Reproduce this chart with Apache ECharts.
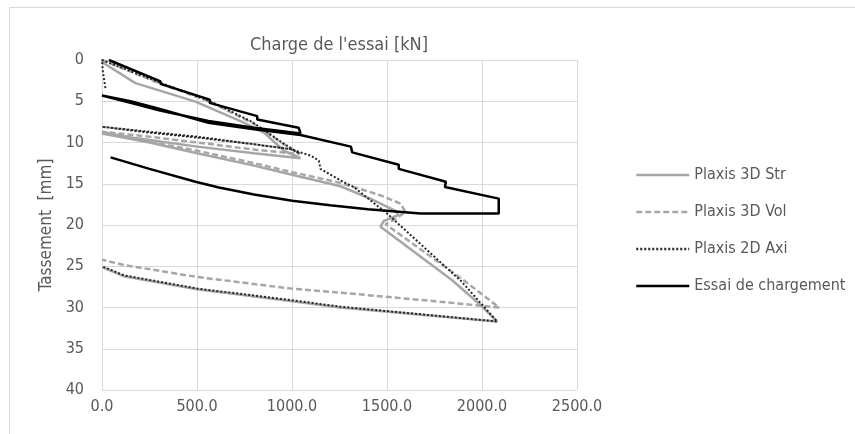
<!DOCTYPE html>
<html>
<head>
<meta charset="utf-8">
<script src="https://cdn.jsdelivr.net/npm/echarts@6/dist/echarts.min.js"></script>
<style>
  html, body { margin: 0; padding: 0; background: #fff; }
  #chart { width: 855px; height: 434px; }
</style>
</head>
<body>
<div id="chart"></div>
<script>
// charge [kN], tassement [mm]
var plaxis3DStr = [
  [0, 0], [10, 0.4], [176, 2.8], [492, 5.05], [738, 7.5], [852, 8.8], [957, 11.0], [1045, 11.9],
  [800, 11.3], [501, 10.5], [250, 9.7], [0, 8.9],
  [250, 10.0], [501, 11.3], [800, 12.8], [1000, 13.9], [1255, 15.3], [1420, 16.9], [1545, 18.3], [1560, 18.8],
  [1483, 19.5], [1466, 20.2], [1843, 26.7], [1992, 29.7], [2080, 31.7],
  [1255, 30.0], [992, 29.2], [501, 27.8], [115, 26.2], [0, 25.1]
];
var plaxis3DVol = [
  [0, 0], [300, 2.8], [560, 5.0], [790, 7.6], [950, 10.1], [1040, 11.4],
  [817, 10.9], [500, 10.0], [250, 9.3], [0, 8.7],
  [250, 9.9], [501, 11.0], [800, 12.5], [983, 13.5], [1255, 14.9], [1466, 16.4], [1571, 17.4], [1597, 18.4],
  [1536, 19.4], [1492, 19.9], [1904, 26.7], [2090, 30.0],
  [1780, 29.3], [1255, 28.2], [992, 27.7], [501, 26.3], [115, 24.85], [0, 24.2]
];
var plaxis2DAxi = [
  [18, 3.4], [5, 1.5], [0, 0], [300, 2.7], [560, 4.9], [790, 7.5], [960, 10.2], [1040, 11.3],
  [992, 10.8], [500, 9.3], [250, 8.7], [0, 8.1],
  [250, 8.8], [500, 9.4], [800, 10.2], [992, 10.8], [1100, 11.6], [1141, 12.2], [1150, 13.2], [1255, 14.6],
  [1325, 15.4], [1500, 18.6], [1890, 26.8], [2080, 31.7],
  [1255, 29.9], [992, 29.1], [501, 27.7], [115, 26.1], [0, 25.0]
];
var essai = [
  [36, 0], [308, 2.6], [308, 2.9], [567, 4.8], [567, 5.2], [817, 6.8], [817, 7.2], [1035, 8.2], [1045, 8.9],
  [800, 8.2], [560, 7.4], [300, 6.1], [150, 5.2], [0, 4.3],
  [150, 5.0], [300, 5.9], [560, 7.6], [800, 8.4], [1045, 9.1],
  [1310, 10.5], [1317, 11.2], [1562, 12.7], [1562, 13.2], [1810, 14.75], [1805, 15.4], [2088, 16.8], [2088, 18.6],
  [1676, 18.6], [1400, 18.1], [1200, 17.6], [1001, 17.05], [800, 16.3], [615, 15.45], [492, 14.75], [250, 13.2], [45, 11.8]
];
var seriesNames = ['Plaxis 3D Str', 'Plaxis 3D Vol', 'Plaxis 2D Axi', 'Essai de chargement'];
var xTicks = [0, 500, 1000, 1500, 2000, 2500];

var txt = '#595959';
var font = "'Liberation Sans Narrow', 'DejaVu Sans Condensed', 'Lato', sans-serif";

var chart = echarts.init(document.getElementById('chart'));

function lineSeries(name, data, color, width, type) {
  return {
    name: name,
    type: 'line',
    data: data,
    symbol: 'none',
    showSymbol: false,
    animation: false,
    lineStyle: { color: color, width: width, type: type },
    itemStyle: { color: color }
  };
}

chart.setOption({
  backgroundColor: '#fff',
  animation: false,
  textStyle: { fontFamily: font },
  title: {
    text: "Charge de l'essai [kN]",
    left: 339,
    top: 36,
    padding: 0,
    textAlign: 'center',
    textStyle: { color: txt, fontSize: 18, fontWeight: 'normal', fontFamily: font }
  },
  graphic: [{
    type: 'rect',
    shape: { x: 9.5, y: 7.5, width: 900, height: 500 },
    style: { fill: 'none', stroke: '#d9d9d9', lineWidth: 1 },
    silent: true
  }],
  legend: {
    orient: 'vertical',
    left: 630,
    top: 162,
    itemWidth: 53,
    itemHeight: 14,
    itemGap: 21,
    itemStyle: { color: 'rgba(0,0,0,0)', borderWidth: 0, opacity: 0 },
    lineStyle: { width: 2.5 },
    textStyle: { color: txt, fontSize: 16, fontFamily: font },
    data: seriesNames
  },
  grid: { left: 102, top: 60, width: 475, height: 330 },
  xAxis: {
    type: 'value',
    min: xTicks[0],
    max: xTicks[xTicks.length - 1],
    interval: 500,
    axisLine: { show: false },
    axisTick: { show: false },
    axisLabel: { color: txt, fontSize: 16, margin: 9, formatter: function (v) { return v.toFixed(1); } },
    splitLine: { show: true, lineStyle: { color: '#d9d9d9', width: 1 } }
  },
  yAxis: {
    type: 'value',
    inverse: true,
    min: 0,
    max: 40,
    interval: 5,
    name: 'Tassement  [mm]',
    nameLocation: 'middle',
    nameGap: 46,
    nameRotate: 90,
    nameTextStyle: { color: txt, fontSize: 17, fontFamily: font },
    axisLine: { show: false },
    axisTick: { show: false },
    axisLabel: { color: txt, fontSize: 16, margin: 18 },
    splitLine: { show: true, lineStyle: { color: '#d9d9d9', width: 1 } }
  },
  series: [
    lineSeries(seriesNames[0], plaxis3DStr, '#a6a6a6', 2.5, 'solid'),
    lineSeries(seriesNames[1], plaxis3DVol, '#a6a6a6', 2.5, [6, 3]),
    lineSeries(seriesNames[2], plaxis2DAxi, '#262626', 2, [2, 2]),
    lineSeries(seriesNames[3], essai, '#000000', 2.5, 'solid')
  ]
});
</script>
</body>
</html>
